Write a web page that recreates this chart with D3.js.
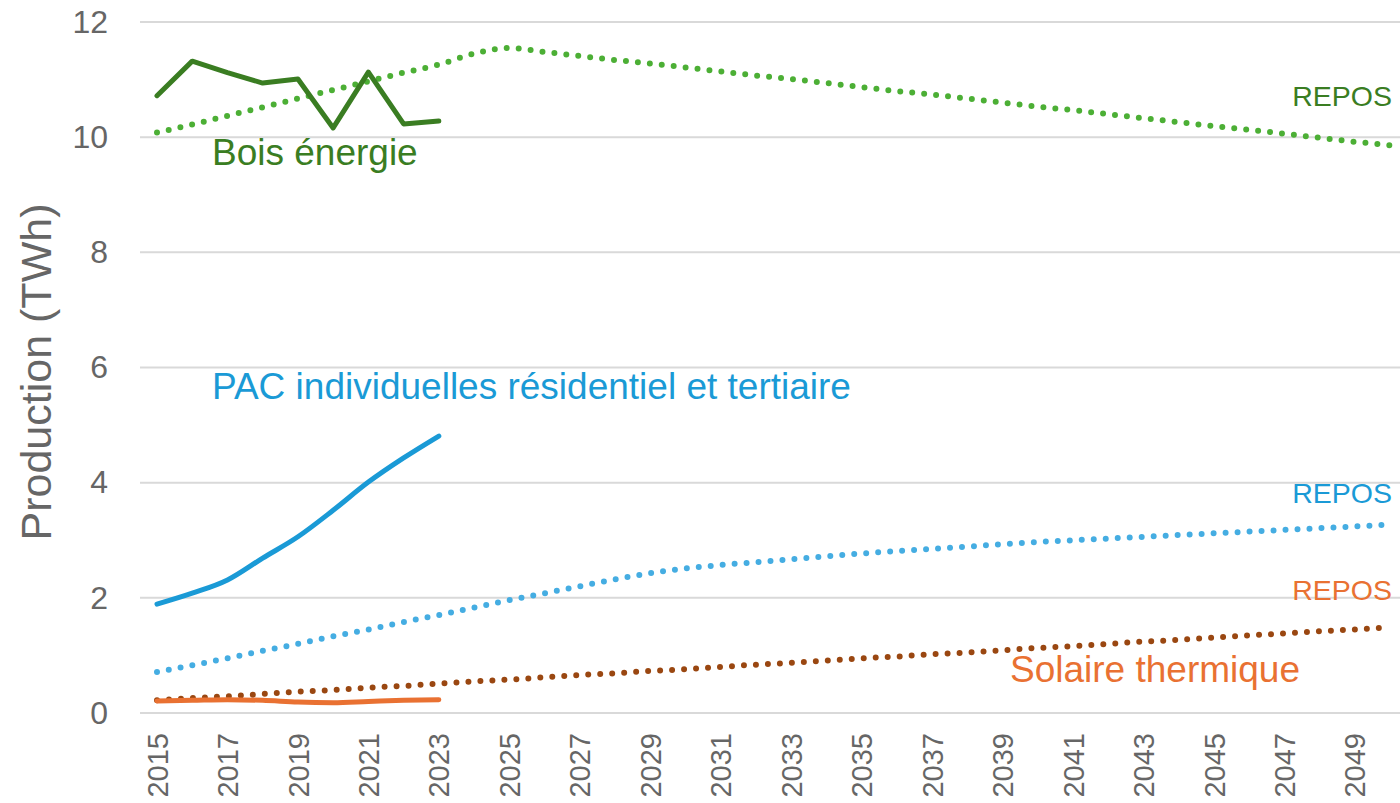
<!DOCTYPE html>
<html>
<head>
<meta charset="utf-8">
<script src="https://cdn.jsdelivr.net/npm/d3@7"></script>
<style>
  body { margin: 0; background: #fff; }
  svg { display: block; font-family: "Liberation Sans", Arial, sans-serif; }
</style>
</head>
<body>
<div id="chart"></div>
<script>
// 1: DATA
const years = d3.range(2015, 2051);
const histYears = d3.range(2015, 2024);

const boisHist = [10.72, 11.32, 11.12, 10.94, 11.01, 10.16, 11.13, 10.23, 10.28];
const pacHist = [1.89, 2.08, 2.31, 2.69, 3.06, 3.52, 4.01, 4.43, 4.81];
const solaireHist = [0.21, 0.22, 0.23, 0.22, 0.19, 0.18, 0.20, 0.22, 0.23];

const boisRepos = [10.08, 10.22, 10.37, 10.52, 10.67, 10.82, 10.97, 11.12, 11.26, 11.45, 11.55,
  11.48, 11.41, 11.34, 11.28, 11.21, 11.14, 11.07, 11.01, 10.94, 10.87, 10.80, 10.74, 10.67,
  10.60, 10.53, 10.47, 10.40, 10.33, 10.26, 10.19, 10.13, 10.06, 9.99, 9.92, 9.86];
const pacRepos = [0.71, 0.83, 0.95, 1.08, 1.20, 1.33, 1.45, 1.58, 1.70, 1.83, 1.96, 2.08,
  2.20, 2.32, 2.43, 2.51, 2.57, 2.62, 2.67, 2.72, 2.77, 2.81, 2.85, 2.89, 2.93, 2.97, 3.00,
  3.03, 3.06, 3.09, 3.12, 3.15, 3.18, 3.21, 3.24, 3.27];
const solaireRepos = [0.22, 0.26, 0.29, 0.33, 0.37, 0.40, 0.44, 0.47, 0.51, 0.55, 0.58, 0.62,
  0.66, 0.69, 0.73, 0.76, 0.80, 0.84, 0.87, 0.91, 0.95, 0.98, 1.02, 1.05, 1.09, 1.13, 1.16,
  1.20, 1.24, 1.27, 1.31, 1.35, 1.38, 1.42, 1.45, 1.49];

const yTicks = [0, 2, 4, 6, 8, 10, 12];
const xTicks = d3.range(2015, 2050, 2);

// 2: SVG
const W = 1400, H = 803;
const svg = d3.select("#chart").append("svg")
  .attr("width", W).attr("height", H);

// 3: SCALES
const x = d3.scaleLinear().domain([2015, 2050]).range([157, 1390]);
const y = d3.scaleLinear().domain([0, 12]).range([713, 22]);

// gridlines
svg.append("g")
  .selectAll("line")
  .data(yTicks)
  .enter().append("line")
  .attr("x1", 140).attr("x2", W)
  .attr("y1", d => y(d)).attr("y2", d => y(d))
  .attr("stroke", "#d9d9d9")
  .attr("stroke-width", 2);

// y axis labels
const yAxis = svg.append("g")
  .attr("transform", "translate(108,0)")
  .call(d3.axisLeft(y).tickValues(yTicks).tickSize(0).tickPadding(0));
yAxis.select(".domain").remove();
yAxis.selectAll("text")
  .attr("fill", "#666")
  .style("font-size", "32px")
  .style("font-family", "Liberation Sans, Arial, sans-serif");

// x axis labels
const xAxis = svg.append("g")
  .attr("transform", "translate(0,713)")
  .call(d3.axisBottom(x).tickValues(xTicks).tickFormat(d3.format("d")).tickSize(0));
xAxis.select(".domain").remove();
xAxis.selectAll("text")
  .attr("fill", "#666")
  .style("font-size", "29px")
  .style("font-family", "Liberation Sans, Arial, sans-serif")
  .attr("text-anchor", "end")
  .attr("dy", "0.35em")
  .attr("transform", "translate(0,20) rotate(-90)")
  .attr("x", 0).attr("y", 0);

// axis title
svg.append("text")
  .attr("transform", "translate(51,372) rotate(-90)")
  .attr("text-anchor", "middle")
  .attr("fill", "#666")
  .style("font-size", "43px")
  .text("Production (TWh)");

// 4: LINES
const line = d3.line()
  .x(d => x(d[0]))
  .y(d => y(d[1]))
  .curve(d3.curveMonotoneX);

const series = [
  { yrs: years, vals: boisRepos, color: "#4caf35", dotted: true },
  { yrs: years, vals: pacRepos, color: "#45ade2", dotted: true },
  { yrs: years, vals: solaireRepos, color: "#9a4711", dotted: true },
  { yrs: histYears, vals: boisHist, color: "#3a7d22", dotted: false, linear: true },
  { yrs: histYears, vals: pacHist, color: "#1a9ad6", dotted: false },
  { yrs: histYears, vals: solaireHist, color: "#e97132", dotted: false }
];

series.forEach(s => {
  const pts = s.yrs.map((yr, i) => [yr, s.vals[i]]);
  const gen = s.linear ? d3.line().x(d => x(d[0])).y(d => y(d[1])) : line;
  svg.append("path")
    .datum(pts)
    .attr("d", gen)
    .attr("fill", "none")
    .attr("stroke", s.color)
    .attr("stroke-width", s.dotted ? 6 : 5)
    .attr("stroke-linecap", "round")
    .attr("stroke-linejoin", "round")
    .attr("stroke-dasharray", s.dotted ? "0 12" : null);
});

// 5: LABELS
const labels = [
  { text: "Bois énergie", x: 212, y: 165, size: 37, color: "#3a7d22", anchor: "start" },
  { text: "PAC individuelles résidentiel et tertiaire", x: 212, y: 399, size: 37, color: "#1a9ad6", anchor: "start" },
  { text: "Solaire thermique", x: 1010, y: 682, size: 37, color: "#e97132", anchor: "start" },
  { text: "REPOS", x: 1392, y: 106, size: 28.5, color: "#3a7d22", anchor: "end" },
  { text: "REPOS", x: 1392, y: 503, size: 28.5, color: "#1a9ad6", anchor: "end" },
  { text: "REPOS", x: 1392, y: 600, size: 28.5, color: "#e97132", anchor: "end" }
];

svg.append("g")
  .selectAll("text")
  .data(labels)
  .enter().append("text")
  .attr("x", d => d.x)
  .attr("y", d => d.y)
  .attr("text-anchor", d => d.anchor)
  .attr("fill", d => d.color)
  .style("font-size", d => d.size + "px")
  .text(d => d.text);
</script>
</body>
</html>
